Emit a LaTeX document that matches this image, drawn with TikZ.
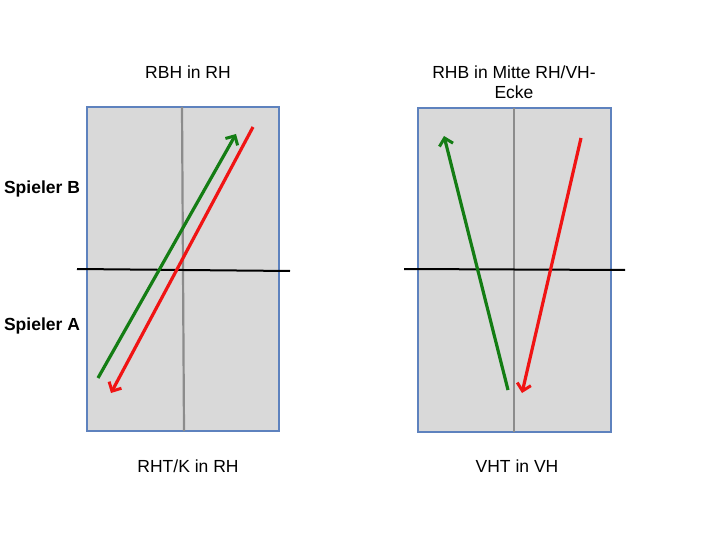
\documentclass[tikz,border=0pt]{standalone}
\usepackage{fontspec}
\setmainfont{Liberation Sans}
\usetikzlibrary{arrows.meta}
\definecolor{tablefill}{RGB}{217,217,217}
\definecolor{tableline}{RGB}{94,130,190}
\definecolor{midline}{RGB}{140,140,140}
\definecolor{ballgreen}{RGB}{20,125,20}
\definecolor{ballred}{RGB}{240,20,20}
\tikzset{
  tab/.style  ={fill=tablefill, draw=tableline, line width=2pt},
  mid/.style  ={draw=midline, line width=2.2pt},
  net/.style  ={draw=black, line width=2pt},
  ttl/.style  ={font=\fontsize{17.5}{20}\selectfont, inner sep=1pt, align=center},
  plr/.style  ={font=\fontsize{17.5}{20}\selectfont\bfseries, inner sep=1pt},
  ball/.style ={line width=3.2pt, -{Straight Barb[length=7pt,width=14pt,line width=3pt]}},
}
\begin{document}
\begin{tikzpicture}[x=1pt,y=-1pt]
  \useasboundingbox (0,0) rectangle (720,540);
  % linker Tisch
  \draw[tab] (87,107) rectangle (279,431);
  \draw[mid] (182,107) -- (184,431);
  \draw[net] (77,269) -- (290,271);
  \coordinate (gA) at (98,378);
  \coordinate (gB) at (236,134);
  \coordinate (rB) at (253,127);
  \coordinate (rA) at (111,393);
  \draw[ball,ballgreen] (gA) -- (gB);
  \draw[ball,ballred] (rB) -- (rA);
  \node[ttl] (top1) at (188,72) {RBH in RH};
  \node[ttl] (bot1) at (188,466) {RHT/K in RH};
  % rechter Tisch
  \draw[tab] (418,108) rectangle (611,432);
  \draw[mid] (514,108) -- (514,432);
  \draw[net] (404,269) -- (625,270);
  \coordinate (gA2) at (508,390);
  \coordinate (gB2) at (444,136);
  \coordinate (rB2) at (581,138);
  \coordinate (rA2) at (522,393);
  \draw[ball,ballgreen] (gA2) -- (gB2);
  \draw[ball,ballred] (rB2) -- (rA2);
  \node[ttl] (top2) at (514,82) {RHB in Mitte RH/VH-\\Ecke};
  \node[ttl] (bot2) at (517,466) {VHT in VH};
  % Spieler
  \node[plr] (spB) at (42,189) {Spieler B};
  \node[plr] (spA) at (42,326) {Spieler A};
\end{tikzpicture}
\end{document}
